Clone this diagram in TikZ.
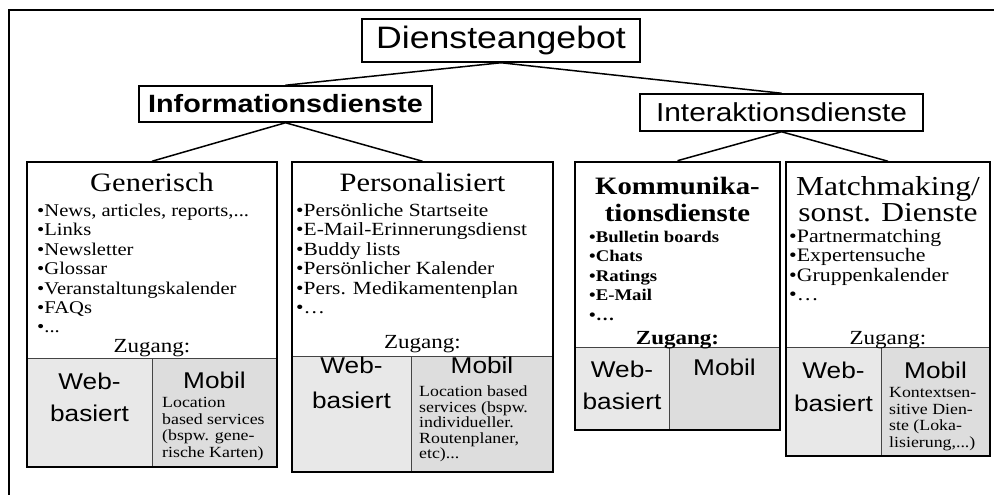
\documentclass[tikz,border=0pt]{standalone}
\usepackage{fontspec}
\setmainfont[FakeStretch=1.15]{Liberation Serif}
\newfontfamily\diagsans[FakeStretch=1.15]{Liberation Sans}
\usetikzlibrary{fit}

\definecolor{webgray}{HTML}{E8E8E8}
\definecolor{mobgray}{HTML}{DDDDDD}
\definecolor{cellline}{HTML}{444444}

\newcommand\fsz[1]{\fontsize{#1bp}{#1bp}\selectfont}

\tikzset{
  frameline/.style={line width=2bp},
  headbox/.style={draw, line width=1.5bp, fill=white, inner sep=0pt},
  link/.style={line width=1.5bp},
  panel/.style={draw, line width=1.5bp, inner sep=0pt},
  strongpanel/.style={draw, line width=2.6bp, inner sep=0pt},
  webcell/.style={fill=webgray, draw=cellline, line width=1bp, inner sep=0pt},
  mobcell/.style={fill=mobgray, draw=cellline, line width=1bp, inner sep=0pt},
  title/.style={inner sep=0pt, anchor=base, font=\fsz{26.5}},
  btitle/.style={inner sep=0pt, anchor=base, font=\bfseries\fsz{25}},
  entry/.style={inner sep=0pt, anchor=base west, font=\fsz{17.9}},
  bentry/.style={inner sep=0pt, anchor=base west, font=\bfseries\fsz{16.3}},
  access/.style={inner sep=0pt, anchor=base, font=\fsz{20}},
  baccess/.style={inner sep=0pt, anchor=base, font=\bfseries\fsz{20}},
  channel/.style={inner sep=0pt, anchor=base, font=\diagsans\fsz{22.8}},
  note/.style={inner sep=0pt, anchor=base west, font=\fsz{15.5}},
}

\begin{document}
\begin{tikzpicture}[x=1bp, y=-1bp]
\useasboundingbox (0,0) rectangle (994,495);

% outer frame (open to the right and bottom)
\draw[frameline] (9,496) -- (9,10) -- (995,10);

% hierarchy heads
\node[headbox, minimum width=278bp, minimum height=43bp,
      font=\diagsans\fsz{31}] (root) at (501,40.5) {Diensteangebot};
\node[headbox, minimum width=293bp, minimum height=36bp,
      font=\diagsans\bfseries\fsz{25}] (info) at (285.5,104) {Informationsdienste};
\node[headbox, minimum width=283bp, minimum height=37bp,
      font=\diagsans\fsz{26}] (inter) at (781.5,112.5) {Interaktionsdienste};

% access cells
\node[webcell, fit={(27,358) (152,467)}] (genweb) {};
\node[mobcell, fit={(152,358) (277,467)}] (genmob) {};
\node[webcell, fit={(292,356) (411,472)}] (persweb) {};
\node[mobcell, fit={(411,356) (553,472)}] (persmob) {};
\node[webcell, fit={(575,348) (669,430)}] (kommweb) {};
\node[mobcell, fit={(669,348) (780,430)}] (kommmob) {};
\node[webcell, fit={(786,348) (881,456)}] (matchweb) {};
\node[mobcell, fit={(881,348) (990,456)}] (matchmob) {};

% panels
\node[panel, fit={(27,162) (277,467)}] (gen) {};
\node[panel, fit={(292,162) (553,472)}] (pers) {};
\node[strongpanel, fit={(575,162) (780,430)}] (komm) {};
\node[panel, fit={(786,162) (990,456)}] (match) {};

% connectors
\draw[link] (root.south) -- (info.north);
\draw[link] (root.south) -- (inter.north);
\draw[link] (info.south) -- (gen.north);
\draw[link] (info.south) -- (pers.north);
\draw[link] (inter.south) -- (komm.north);
\draw[link] (inter.south) -- (match.north);

% --- Generisch
\node[title] (gen-t) at (152,192) {Generisch};
\node[entry] (gen-1) at (37,216.5) {•News, articles, reports,...};
\node[entry] (gen-2) at (37,235.9) {•Links};
\node[entry] (gen-3) at (37,255.3) {•Newsletter};
\node[entry] (gen-4) at (37,274.7) {•Glossar};
\node[entry] (gen-5) at (37,294.1) {•Veranstaltungskalender};
\node[entry] (gen-6) at (37,313.5) {•FAQs};
\node[entry] (gen-7) at (37,332.9) {•...};
\node[access] (gen-z) at (152,352.5) {Zugang:};
\node[channel] (gen-w1) at (89.5,389) {Web-};
\node[channel] (gen-w2) at (89.5,421) {basiert};
\node[channel] (gen-m) at (214.5,388) {Mobil};
\node[note] (gen-n1) at (162,407.5) {Location};
\node[note] (gen-n2) at (162,424.2) {based services};
\node[note] (gen-n3) at (162,440.9) {(bspw. gene-};
\node[note] (gen-n4) at (162,457.5) {rische Karten)};

% --- Personalisiert
\node[title] (pers-t) at (422.5,192) {Personalisiert};
\begin{scope}[entry/.append style={font=\fsz{18.6}}]
\node[entry] (pers-1) at (296,216.5) {•Persönliche Startseite};
\node[entry] (pers-2) at (296,235.9) {•E-Mail-Erinnerungsdienst};
\node[entry] (pers-3) at (296,255.3) {•Buddy lists};
\node[entry] (pers-4) at (296,274.7) {•Persönlicher Kalender};
\node[entry] (pers-5) at (296,294.1) {•Pers. Medikamentenplan};
\node[entry] (pers-6) at (296,313.5) {•…};
\end{scope}
\node[access] (pers-z) at (422.5,348.5) {Zugang:};
\node[channel] (pers-w1) at (351.5,374) {Web-};
\node[channel] (pers-w2) at (351.5,408) {basiert};
\node[channel] (pers-m) at (482,374) {Mobil};
\node[note] (pers-n1) at (419,396.5) {Location based};
\node[note] (pers-n2) at (419,412) {services (bspw.};
\node[note] (pers-n3) at (419,427.5) {individueller.};
\node[note] (pers-n4) at (419,443) {Routenplaner,};
\node[note] (pers-n5) at (419,458.5) {etc)...};

% --- Kommunikationsdienste
\node[btitle] (komm-t1) at (677.5,195) {Kommunika-};
\node[btitle] (komm-t2) at (677.5,222) {tionsdienste};
\node[bentry] (komm-1) at (589,242.5) {•Bulletin boards};
\node[bentry] (komm-2) at (589,261.9) {•Chats};
\node[bentry] (komm-3) at (589,281.3) {•Ratings};
\node[bentry] (komm-4) at (589,300.7) {•E-Mail};
\node[bentry] (komm-5) at (589,320.1) {•…};
\node[baccess] (komm-z) at (677.5,344.5) {Zugang:};
\node[channel] (komm-w1) at (622,378) {Web-};
\node[channel] (komm-w2) at (622,409) {basiert};
\node[channel] (komm-m) at (724.5,376) {Mobil};

% --- Matchmaking / sonstige Dienste
\begin{scope}[title/.append style={font=\fsz{27.4}}, entry/.append style={font=\fsz{19}}]
\node[title] (match-t1) at (888,196) {Matchmaking/};
\node[title] (match-t2) at (888,222) {sonst. Dienste};
\node[entry] (match-1) at (789,242.5) {•Partnermatching};
\node[entry] (match-2) at (789,261.9) {•Expertensuche};
\node[entry] (match-3) at (789,281.3) {•Gruppenkalender};
\node[entry] (match-4) at (789,300.7) {•…};
\end{scope}
\node[access] (match-z) at (888,344.5) {Zugang:};
\node[channel] (match-w1) at (833.5,379) {Web-};
\node[channel] (match-w2) at (833.5,411) {basiert};
\node[channel] (match-m) at (935.5,379) {Mobil};
\node[note] (match-n1) at (889,397.5) {Kontextsen-};
\node[note] (match-n2) at (889,414.2) {sitive Dien-};
\node[note] (match-n3) at (889,430.9) {ste (Loka-};
\node[note] (match-n4) at (889,447.5) {lisierung,...)};
\end{tikzpicture}
\end{document}
